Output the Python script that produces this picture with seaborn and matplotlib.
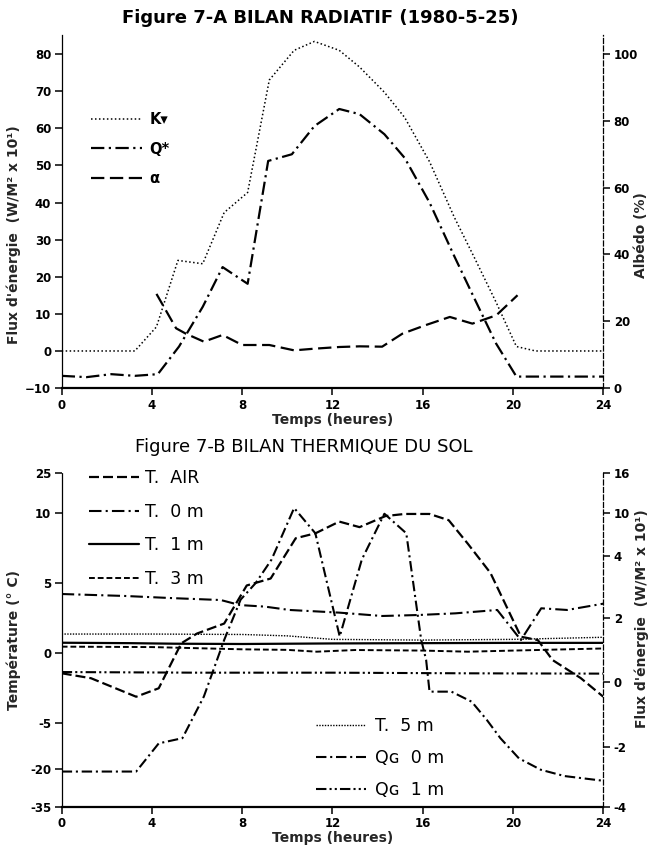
"""
Figure 7 : bilan radiatif (7-A) et bilan thermique du sol (7-B), 1980-5-25.
Reconstitution du graphique scanné avec seaborn / matplotlib.
"""

import matplotlib

matplotlib.use("Agg")

import matplotlib.pyplot as plt
import numpy as np
import seaborn as sns

# --- Figure 7-A : bilan radiatif ---
HEURES_KV = [0, 3.24, 4.2, 5.15, 6.25, 7.2, 8.24, 9.2, 10.3, 11.2, 12.3, 13.2,
             14.3, 15.2, 16.3, 17.4, 18.3, 19.26, 20.15, 21.0, 24]
KV = [0, 0, 6.5, 24.4, 23.5, 37.3, 42.7, 73.0, 81, 83.4, 81, 76.5,
      69.7, 62.9, 51, 36, 25, 13, 1.2, 0, 0]

HEURES_QSTAR = [0, 1.1, 2.2, 3.24, 4.26, 5.2, 6.25, 7.13, 8.24, 9.15, 10.2,
                11.2, 12.3, 13.2, 14.3, 15.2, 16.3, 17.4, 18.3, 19.25, 20.15, 24]
QSTAR = [-6.7, -7.05, -6.25, -6.7, -6.25, 1.2, 11.9, 22.6, 18.1, 51.2, 53,
         60.6, 65.2, 63.8, 58.4, 52, 40, 25.5, 14, 2, -6.9, -6.9]

HEURES_ALBEDO = [4.2, 5.07, 5.5, 6.3, 7.13, 8.0, 9.2, 10.3, 11.2, 12.3, 13.2,
                 14.2, 15.1, 16.15, 17.2, 18.2, 19.26, 20.2]
ALBEDO = [28.2, 17.9, 16.3, 13.9, 15.9, 12.9, 12.9, 11.3, 11.8, 12.3, 12.5,
          12.4, 16.3, 18.9, 21.3, 19.3, 21.8, 27.8]

# --- Figure 7-B : bilan thermique du sol ---
HEURES_TAIR = [0, 1.3, 3.3, 4.3, 5.3, 6.0, 7.2, 8.2, 9.26, 10.37, 11.25, 12.3,
               13.2, 14.35, 15.2, 16.3, 17.15, 18.0, 19.0, 20.35, 21.1, 21.75,
               23.0, 24.0]
T_AIR = [-1.46, -1.81, -3.12, -2.52, 0.67, 1.37, 2.08, 4.8, 5.3, 8.2, 8.56, 9.4,
         9.0, 9.8, 9.95, 9.95, 9.5, 7.8, 5.7, 1.14, 0.9, -0.52, -1.8, -3.12]

HEURES_T0 = [0, 2.8, 5.0, 7.05, 7.9, 9.0, 10.1, 12.3, 14.2, 15.8, 17.45, 19.3,
             20.35, 21.25, 22.4, 24.0]
T_0M = [4.19, 4.05, 3.89, 3.76, 3.4, 3.29, 3.05, 2.86, 2.62, 2.69, 2.81, 3.05,
        0.9, 3.17, 3.05, 3.5]

HEURES_T1 = [0, 3, 5, 8, 12, 16, 20, 24]
T_1M = [0.71, 0.68, 0.64, 0.62, 0.66, 0.68, 0.7, 0.7]

HEURES_T3 = [0, 4, 8, 10, 11.3, 13, 16, 18, 20, 24]
T_3M = [0.43, 0.4, 0.24, 0.2, 0.07, 0.19, 0.15, 0.07, 0.15, 0.3]

HEURES_T5 = [0, 4, 8, 10, 12, 16, 20, 24]
T_5M = [1.33, 1.33, 1.3, 1.2, 0.95, 0.9, 0.95, 1.1]

HEURES_QG0 = [0, 3.3, 4.3, 5.35, 6.3, 7.2, 7.93, 8.6, 9.3, 10.3, 11.24, 12.32,
              13.3, 14.3, 15.27, 15.93, 16.15, 16.3, 17.27, 18.17, 18.84, 19.44,
              20.26, 21.23, 22.28, 23.92]
QG_0M = [-2.83, -2.83, -1.9, -1.74, -0.46, 1.31, 2.6, 3.14, 3.9, 10.75, 7.2,
         1.42, 3.9, 9.9, 7.2, 1.32, 0.68, -0.31, -0.31, -0.62, -1.18, -1.74,
         -2.39, -2.77, -2.98, -3.13]

HEURES_QG1 = [0, 6, 12, 18, 24]
QG_1M = [0.3, 0.28, 0.28, 0.26, 0.25]

# --- Graduations ---
X_TICKS = [0, 4, 8, 12, 16, 20, 24]
TICKS_FLUX_A = [-10, 0, 10, 20, 30, 40, 50, 60, 70, 80]
TICKS_ALBEDO = [0, 20, 40, 60, 80, 100]
TICKS_TEMP = [-35, -20, -5, 0, 5, 10, 25]
TICKS_FLUX_B = [-4, -2, 0, 2, 4, 10, 16]

# Les axes de la figure 7-B ne sont pas linéaires sur le document original :
# chaque graduation est placée à sa hauteur relative (px depuis le bas de l'axe)
HAUTEUR_TEMP = [0, 37.7, 83.4, 154.0, 224.0, 293.4, 333.7]
HAUTEUR_FLUX_B = [0, 60, 125, 188.4, 250, 293.4, 333.4]

sns.set_theme(style="ticks")
plt.rcParams.update(
    {
        "font.family": ["DejaVu Sans"],
        "axes.edgecolor": "black",
        "xtick.color": "black",
        "ytick.color": "black",
        "text.color": "black",
        "lines.dash_capstyle": "butt",
    }
)

FS_TICK = 8.5


def _echelle(valeurs, hauteurs):
    """Échelle linéaire par morceaux (fonction, inverse) pour set_yscale('function')."""
    v = np.asarray(valeurs, dtype=float)
    h = np.asarray(hauteurs, dtype=float)

    def aller(x):
        return np.interp(np.asarray(x, dtype=float), v, h)

    def retour(y):
        return np.interp(np.asarray(y, dtype=float), h, v)

    return aller, retour


def _tracer(ax, heures, valeurs, style, lw, label):
    sns.lineplot(
        x=heures, y=valeurs, ax=ax, color="black", linewidth=lw,
        linestyle=style, estimator=None, sort=False, legend=False,
    )
    ligne = ax.lines[-1]
    ligne.set_label(label)
    return ligne


def _habiller(ax, ax2):
    """Spines et graduations dans le style du scan."""
    ax.spines["top"].set_visible(False)
    ax.spines["right"].set_visible(False)
    ax.spines["left"].set_linestyle((0, (1, 1)))
    ax.spines["left"].set_linewidth(0.9)
    ax.spines["bottom"].set_linewidth(1.6)
    for cote in ("top", "left", "bottom"):
        ax2.spines[cote].set_visible(False)
    ax2.spines["right"].set_linestyle((0, (4, 2)))
    ax2.spines["right"].set_linewidth(0.9)

    ax.set_xlim(0, 24)
    ax.set_xticks(X_TICKS)
    ax.tick_params(axis="both", direction="out", length=5, width=1.1,
                   labelsize=FS_TICK, pad=2.5)
    ax2.tick_params(axis="y", direction="out", length=5, width=1.1,
                    labelsize=FS_TICK, pad=2.5)
    for lab in ax.get_xticklabels() + ax.get_yticklabels() + ax2.get_yticklabels():
        lab.set_fontweight("bold")
    ax.set_xlabel("Temps (heures)", fontsize=10, fontweight="bold", labelpad=1)
    ax.grid(False)
    ax2.grid(False)


def generer_figure() -> None:
    fig = plt.figure(figsize=(6.48, 8.47), dpi=100)
    fig.patch.set_facecolor("white")

    # ---------------- Figure 7-A ----------------
    ax_a = fig.add_axes([0.0952, 0.5418, 0.8358, 0.4163])
    ax_a2 = ax_a.twinx()

    l_kv = _tracer(ax_a, HEURES_KV, KV, (0, (1, 1.6)), 1.1, "K\u25be")
    l_qs = _tracer(ax_a, HEURES_QSTAR, QSTAR, (0, (6, 2, 1, 2)), 1.6, "Q*")
    l_al = _tracer(ax_a2, HEURES_ALBEDO, ALBEDO, (0, (6, 2.5)), 1.6, "\u03b1")

    ax_a.set_ylim(-10, 85)
    ax_a.set_yticks(TICKS_FLUX_A)
    ax_a2.set_ylim(0, 105.56)
    ax_a2.set_yticks(TICKS_ALBEDO)
    _habiller(ax_a, ax_a2)

    ax_a.set_ylabel("Flux d'énergie  (W/M² x 10¹)", fontsize=10, fontweight="bold")
    ax_a.yaxis.set_label_coords(-0.075, 0.434)
    ax_a2.set_ylabel("Albédo (%)", fontsize=10, fontweight="bold", rotation=90)
    ax_a2.yaxis.set_label_coords(1.057, 0.434)

    ax_a.legend(
        handles=[l_kv, l_qs, l_al], loc="upper left",
        bbox_to_anchor=(91 / 648, 1 - 112 / 847), bbox_transform=fig.transFigure,
        frameon=False, borderpad=0, borderaxespad=0, handlelength=3.5,
        handletextpad=0.5, labelspacing=1.0, prop={"size": 10.5, "weight": "bold"},
    )

    fig.text(320 / 648, 1 - 18 / 847, "Figure 7-A BILAN RADIATIF (1980-5-25)",
             ha="center", va="center", fontsize=13, fontweight="bold")

    # ---------------- Figure 7-B ----------------
    ax_b = fig.add_axes([0.0952, 0.0476, 0.8358, 0.394])
    ax_b2 = ax_b.twinx()
    ax_b.set_yscale("function", functions=_echelle(TICKS_TEMP, HAUTEUR_TEMP))
    ax_b2.set_yscale("function", functions=_echelle(TICKS_FLUX_B, HAUTEUR_FLUX_B))

    l_air = _tracer(ax_b, HEURES_TAIR, T_AIR, (0, (4.5, 1.8)), 1.6, "T.  AIR")
    l_t0 = _tracer(ax_b, HEURES_T0, T_0M, (0, (6, 2, 1, 2)), 1.5, "T.  0 m")
    l_t1 = _tracer(ax_b, HEURES_T1, T_1M, "-", 1.6, "T.  1 m")
    l_t3 = _tracer(ax_b, HEURES_T3, T_3M, (0, (3, 1.5)), 1.4, "T.  3 m")
    l_t5 = _tracer(ax_b, HEURES_T5, T_5M, (0, (1, 1)), 1.0, "T.  5 m")
    l_q0 = _tracer(ax_b2, HEURES_QG0, QG_0M, (0, (5, 1.8, 1, 1.8)), 1.5, "Q\u0262  0 m")
    l_q1 = _tracer(ax_b2, HEURES_QG1, QG_1M, (0, (5, 1.5, 1, 1.5, 1, 1.5)), 1.5,
                   "Q\u0262  1 m")

    ax_b.set_ylim(-35, 25)
    ax_b.set_yticks(TICKS_TEMP)
    ax_b.set_yticklabels([str(t) for t in TICKS_TEMP])
    ax_b.yaxis.set_minor_locator(matplotlib.ticker.NullLocator())
    ax_b2.set_ylim(-4, 16)
    ax_b2.set_yticks(TICKS_FLUX_B)
    ax_b2.set_yticklabels([str(t) for t in TICKS_FLUX_B])
    ax_b2.yaxis.set_minor_locator(matplotlib.ticker.NullLocator())
    _habiller(ax_b, ax_b2)

    ax_b.set_ylabel("Température (° C)", fontsize=10, fontweight="bold")
    ax_b.yaxis.set_label_coords(-0.075, 0.5)
    ax_b2.set_ylabel("Flux d'énergie  (W/M² x 10¹)", fontsize=10,
                     fontweight="bold", rotation=90)
    ax_b2.yaxis.set_label_coords(1.057, 0.565)

    leg1 = ax_b2.legend(
        handles=[l_air, l_t0, l_t1, l_t3], loc="upper left",
        bbox_to_anchor=(89 / 648, 1 - 469 / 847), bbox_transform=fig.transFigure,
        frameon=False, borderpad=0, borderaxespad=0, handlelength=2.9,
        handletextpad=0.35, labelspacing=0.9, prop={"size": 12.5},
    )
    ax_b2.add_artist(leg1)
    ax_b2.legend(
        handles=[l_t5, l_q0, l_q1], loc="upper left",
        bbox_to_anchor=(316 / 648, 1 - 717 / 847), bbox_transform=fig.transFigure,
        frameon=False, borderpad=0, borderaxespad=0, handlelength=2.9,
        handletextpad=0.5, labelspacing=0.8, prop={"size": 12.5},
    )

    fig.text(304 / 648, 1 - 447 / 847, "Figure 7-B BILAN THERMIQUE DU SOL",
             ha="center", va="center", fontsize=13)

    fig.savefig("out.png", dpi=100, facecolor="white")
    plt.close(fig)


if __name__ == "__main__":
    generer_figure()
